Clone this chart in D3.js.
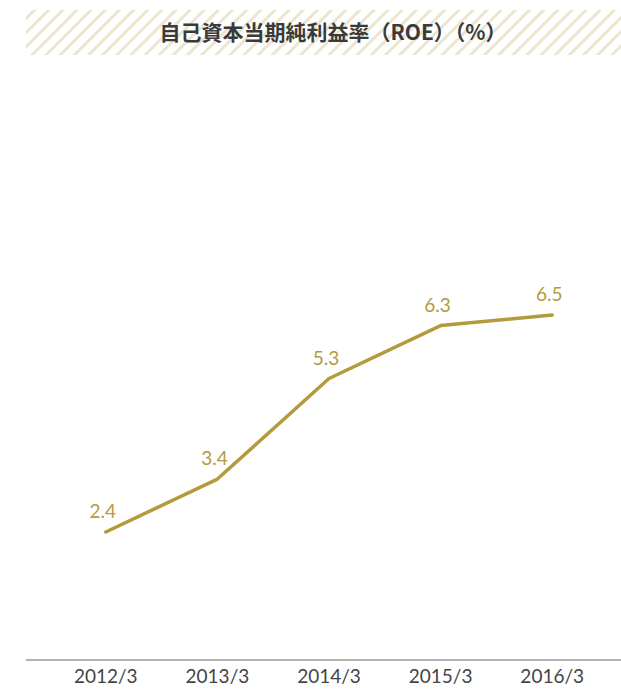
<!DOCTYPE html>
<html>
<head>
<meta charset="utf-8">
<script src="https://cdn.jsdelivr.net/npm/d3@7"></script>
<style>
  html, body { margin: 0; padding: 0; background: #fff; }
  svg { display: block; }
</style>
</head>
<body>
<svg id="chart" width="621" height="689"></svg>
<script>
// ROE by fiscal year end
const categories = ["2012/3", "2013/3", "2014/3", "2015/3", "2016/3"];
const roeValues = [2.4, 3.4, 5.3, 6.3, 6.5];
const titleText = "自己資本当期純利益率（ROE）（%）";

const svg = d3.select("#chart");
const W = 621, H = 689;
const gold = "#b39b3d";

// striped header band
const defs = svg.append("defs");
const pat = defs.append("pattern")
  .attr("id", "stripes")
  .attr("patternUnits", "userSpaceOnUse")
  .attr("width", 10).attr("height", 10)
  .attr("patternTransform", "rotate(45)");
pat.append("rect").attr("width", 10).attr("height", 10).attr("fill", "#fff");
pat.append("rect").attr("x", 0).attr("width", 3).attr("height", 10).attr("fill", "#ebe6d0");

svg.append("rect")
  .attr("x", 26).attr("y", 10).attr("width", W - 26).attr("height", 45)
  .attr("fill", "url(#stripes)");

svg.append("text")
  .attr("x", 333).attr("y", 40)
  .attr("text-anchor", "middle")
  .attr("font-family", "'Noto Sans CJK JP', sans-serif")
  .attr("font-weight", 700)
  .attr("font-size", 21)
  .attr("fill", "#3a3a3a")
  .text(titleText);

// scales
const x = d3.scaleBand().domain(categories).range([50, 608]);
const y = d3.scaleLinear().domain([0, 6.5]).range([659, 315]);

// baseline axis with category labels
const axis = d3.axisBottom(x).tickSize(0).tickPadding(10);
const gAxis = svg.append("g").attr("transform", "translate(0,660)").call(axis);
gAxis.select(".domain").remove();
gAxis.selectAll("text")
  .attr("font-family", "Lato, 'Noto Sans', sans-serif")
  .attr("font-size", 19)
  .attr("fill", "#444");
svg.append("line")
  .attr("x1", 26).attr("x2", W).attr("y1", 660).attr("y2", 660)
  .attr("stroke", "#666").attr("stroke-width", 1);

const data = categories.map((c, i) => ({ c, v: roeValues[i] }));
const cx = d => x(d.c) + x.bandwidth() / 2;

const line = d3.line().x(cx).y(d => y(d.v));
svg.append("path")
  .datum(data)
  .attr("d", line)
  .attr("fill", "none")
  .attr("stroke", gold)
  .attr("stroke-width", 3.5)
  .attr("stroke-linecap", "round")
  .attr("stroke-linejoin", "round");

svg.selectAll("text.val")
  .data(data)
  .enter().append("text")
  .attr("class", "val")
  .attr("x", d => cx(d) - 3)
  .attr("y", d => y(d.v) - 14)
  .attr("text-anchor", "middle")
  .attr("font-family", "Lato, 'Noto Sans', sans-serif")
  .attr("font-size", 19)
  .attr("fill", gold)
  .text(d => d.v.toFixed(1));
</script>
</body>
</html>
